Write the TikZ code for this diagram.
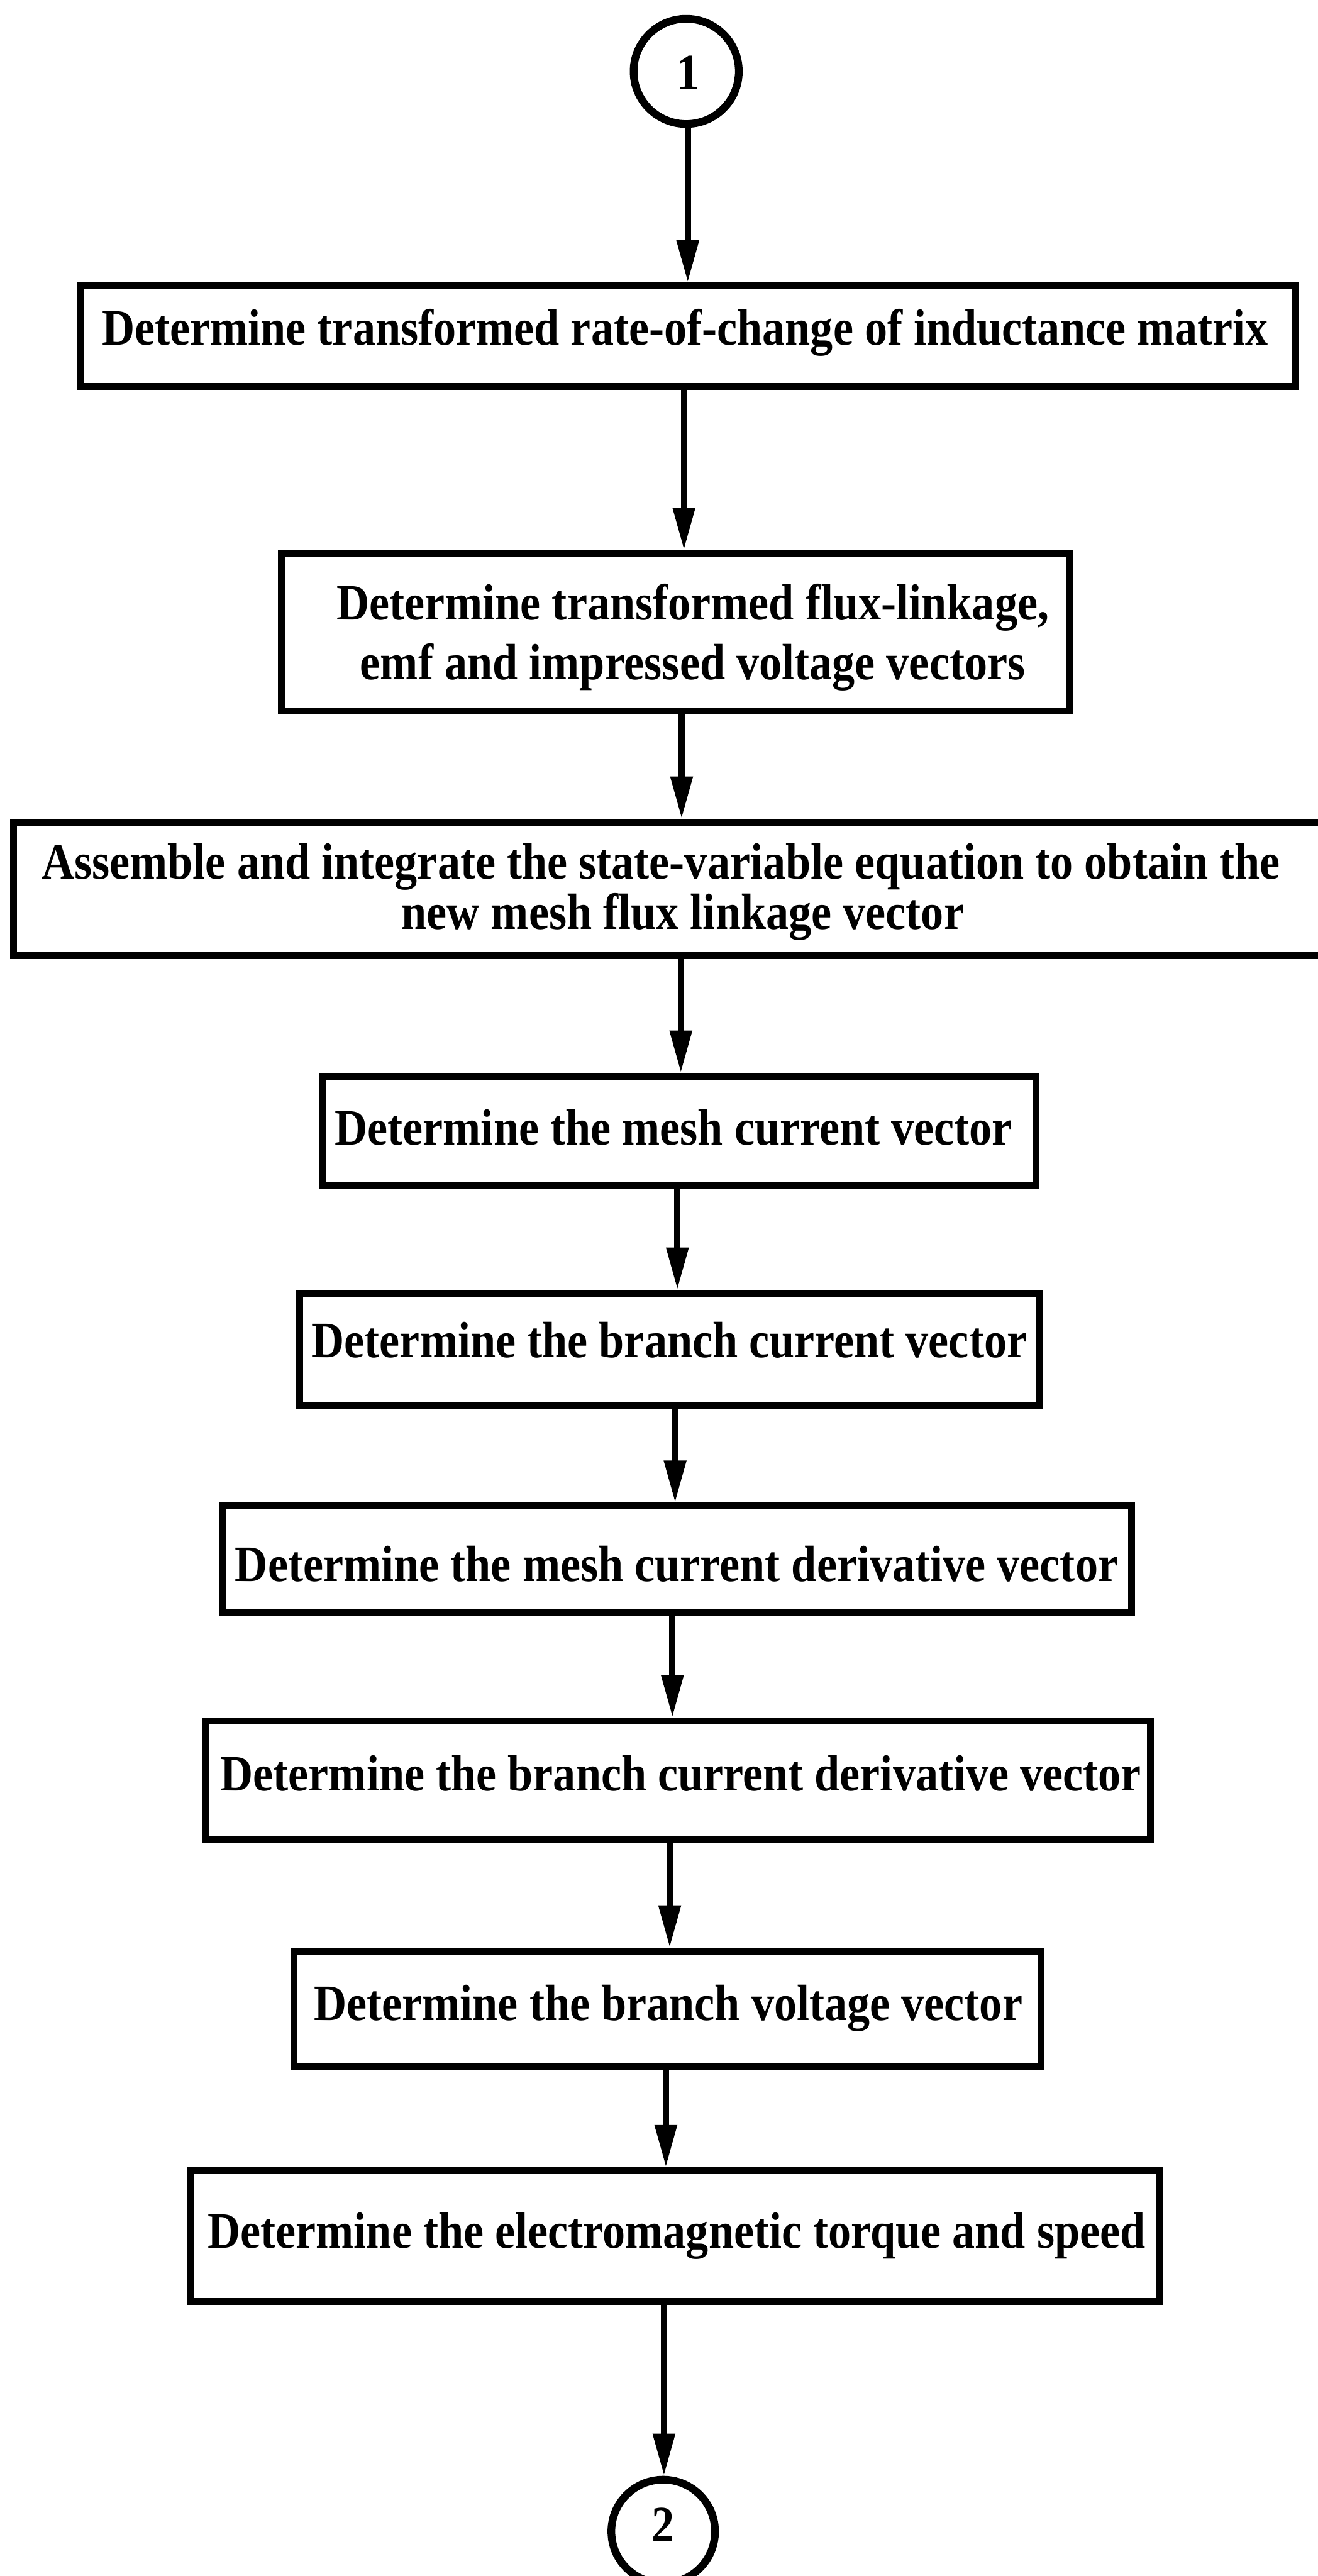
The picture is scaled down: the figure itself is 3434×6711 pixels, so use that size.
\documentclass[tikz,border=0pt]{standalone}
\usepackage{fontspec}
\newfontfamily\flowfont{Liberation Serif Bold}[FakeStretch=0.89]
\usetikzlibrary{arrows.meta}

\begin{document}
\begin{tikzpicture}[x=0.01cm,y=-0.01cm,
  stepbox/.style={draw, rectangle, line width=0.18cm, inner sep=0pt},
  connector/.style={draw, circle, line width=0.2cm, inner sep=0pt},
  txt/.style={font=\flowfont\fontsize{37.8pt}{42pt}\selectfont, anchor=base, inner sep=0pt},
  flow/.style={line width=0.16cm, -{Triangle[length=1.1cm,width=0.55cm]}}]

\useasboundingbox (0,0) rectangle (3434,6711);
\clip (0,0) rectangle (3434,6711);

% off-page connectors
\node[connector, minimum size=2.74cm] (c1) at (1788,186) {};
\node[txt] (n1) at (1793,233) {1};
\node[connector, minimum size=2.70cm] (c2) at (1728,6595) {};
\node[txt] (n2) at (1727,6622) {2};

% process boxes
\node[stepbox, minimum width=31.63cm, minimum height=2.62cm] (b1) at (1791.5,876) {};
\node[stepbox, minimum width=20.52cm, minimum height=4.10cm] (b2) at (1759,1647) {};
\node[stepbox, minimum width=34.43cm, minimum height=3.47cm] (b3) at (1758.5,2315.5) {};
\node[stepbox, minimum width=18.57cm, minimum height=2.84cm] (b4) at (1769.5,2946) {};
\node[stepbox, minimum width=19.26cm, minimum height=2.92cm] (b5) at (1745,3515) {};
\node[stepbox, minimum width=23.68cm, minimum height=2.78cm] (b6) at (1764,4063) {};
\node[stepbox, minimum width=24.60cm, minimum height=3.10cm] (b7) at (1767,4638) {};
\node[stepbox, minimum width=19.46cm, minimum height=3.00cm] (b8) at (1739,5233) {};
\node[stepbox, minimum width=25.24cm, minimum height=3.40cm] (b9) at (1760,5825) {};

% box texts
\node[txt] (t1) at (1785,898) {Determine transformed rate-of-change of inductance matrix};
\node[txt] (t2a) at (1805,1614) {Determine transformed flux-linkage,};
\node[txt] (t2b) at (1805,1771) {emf and impressed voltage vectors};
\node[txt] (t3a) at (1722,2290) {Assemble and integrate the state-variable equation to obtain the};
\node[txt] (t3b) at (1779,2420) {new mesh flux linkage vector};
\node[txt] (t4) at (1755,2982) {Determine the mesh current vector};
\node[txt] (t5) at (1744,3536) {Determine the branch current vector};
\node[txt] (t6) at (1763,4120) {Determine the mesh current derivative vector};
\node[txt] (t7) at (1774,4666) {Determine the branch current derivative vector};
\node[txt] (t8) at (1741,5264) {Determine the branch voltage vector};
\node[txt] (t9) at (1763,5856) {Determine the electromagnetic torque and speed};

% connector columns
\coordinate (a1) at (1792,0);
\coordinate (a2) at (1782,0);
\coordinate (a3) at (1776,0);
\coordinate (a4) at (1774,0);
\coordinate (a5) at (1765,0);
\coordinate (a6) at (1759,0);
\coordinate (a7) at (1752,0);
\coordinate (a8) at (1745,0);
\coordinate (a9) at (1735,0);
\coordinate (a10) at (1730,0);

\draw[flow] (c1.south -| a1) -- (b1.north -| a1);
\draw[flow] (b1.south -| a2) -- (b2.north -| a2);
\draw[flow] (b2.south -| a3) -- (b3.north -| a3);
\draw[flow] (b3.south -| a4) -- (b4.north -| a4);
\draw[flow] (b4.south -| a5) -- (b5.north -| a5);
\draw[flow] (b5.south -| a6) -- (b6.north -| a6);
\draw[flow] (b6.south -| a7) -- (b7.north -| a7);
\draw[flow] (b7.south -| a8) -- (b8.north -| a8);
\draw[flow] (b8.south -| a9) -- (b9.north -| a9);
\draw[flow] (b9.south -| a10) -- (c2.north -| a10);
\end{tikzpicture}
\end{document}
